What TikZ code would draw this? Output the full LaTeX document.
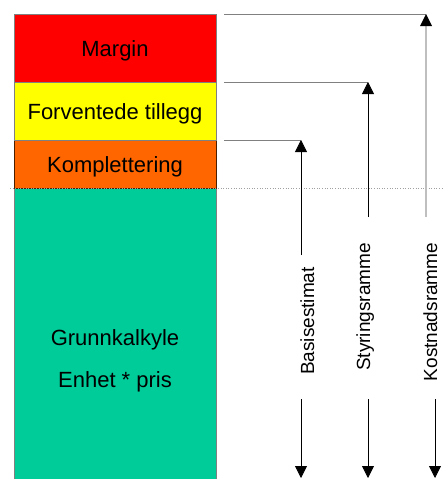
\documentclass[tikz,border=0pt]{standalone}
\usepackage{fontspec}
\setmainfont{Liberation Sans}
\usetikzlibrary{arrows.meta}
\definecolor{mred}{HTML}{FF0000}
\definecolor{myellow}{HTML}{FFFF00}
\definecolor{morange}{HTML}{FF6600}
\definecolor{mgreen}{HTML}{00CC99}
\definecolor{bracketgray}{HTML}{808080}
\definecolor{lightline}{HTML}{BFBFBF}
\definecolor{dotgray}{HTML}{A0A0A0}
\tikzset{
  box/.style={draw=bracketgray, line width=0.6pt, minimum width=202pt, anchor=north west,
    inner sep=0pt, outer sep=0pt, font=\fontsize{22}{26}\selectfont, text height=21pt, text depth=4pt},
  htext/.style={anchor=base, inner sep=0pt, font=\fontsize{22}{26}\selectfont},
  vlabel/.style={rotate=90, anchor=base, inner sep=0pt, font=\fontsize{19}{22}\selectfont},
  bracket/.style={draw=bracketgray, line width=0.8pt},
  arrowline/.style={draw=black, line width=0.8pt, -{Triangle[width=12pt,length=12pt]}},
}
\begin{document}
\begin{tikzpicture}[x=1pt,y=-1pt]
\useasboundingbox (0,0) rectangle (442,479);
% boxes
\node[box, fill=mgreen, minimum height=297pt] (grunn) at (14,188) {};
\node[box, fill=morange, draw=black!70!morange, minimum height=48pt] (kompl) at (14,140) {Komplettering};
\node[box, fill=myellow, minimum height=58pt] (forv) at (14,82) {Forventede tillegg};
\node[box, fill=mred, minimum height=68pt] (marg) at (14,14) {Margin};
\node[htext] (gtext) at (115,345) {Grunnkalkyle};
\node[htext] (etext) at (115,387) {Enhet * pris};
% dotted line
\coordinate (dl) at (10,188);
\coordinate (dr) at (442,188);
\draw[dotgray, line width=0.6pt, dotted] (dl) -- (dr);
% labels
\node[vlabel] (basis) at (314,321) {Basisestimat};
\node[vlabel] (styr) at (370,307) {Styringsramme};
\node[vlabel] (kost) at (437,312) {Kostnadsramme};
% bracket coordinates
\coordinate (m1) at (224,14);  \coordinate (kTop) at (426,14);
\coordinate (f1) at (224,82);  \coordinate (sTop) at (368,82);
\coordinate (k1) at (224,140); \coordinate (bTop) at (301,140);
\draw[bracket] (m1) -- (kTop);
\draw[bracket] (f1) -- (sTop);
\draw[bracket] (k1) -- (bTop);
% up arrows
\coordinate (bUp) at (301,255);
\coordinate (sUp) at (368,217);
\coordinate (kUp) at (426,217);
\coordinate (kHead) at (426,26);
\draw[arrowline] (bUp) -- (bTop);
\draw[arrowline] (sUp) -- (sTop);
\draw[lightline, line width=1.5pt] (kUp) -- (kHead);
\fill[black] (kTop) -- ([xshift=-6pt]kHead) -- ([xshift=6pt]kHead) -- cycle;
% down arrows
\coordinate (bDn) at (301,399); \coordinate (bEnd) at (301,478);
\coordinate (sDn) at (368,399); \coordinate (sEnd) at (368,478);
\coordinate (kDn) at (435,399); \coordinate (kEnd) at (435,478);
\draw[arrowline] (bDn) -- (bEnd);
\draw[arrowline] (sDn) -- (sEnd);
\draw[arrowline] (kDn) -- (kEnd);
\end{tikzpicture}
\end{document}
